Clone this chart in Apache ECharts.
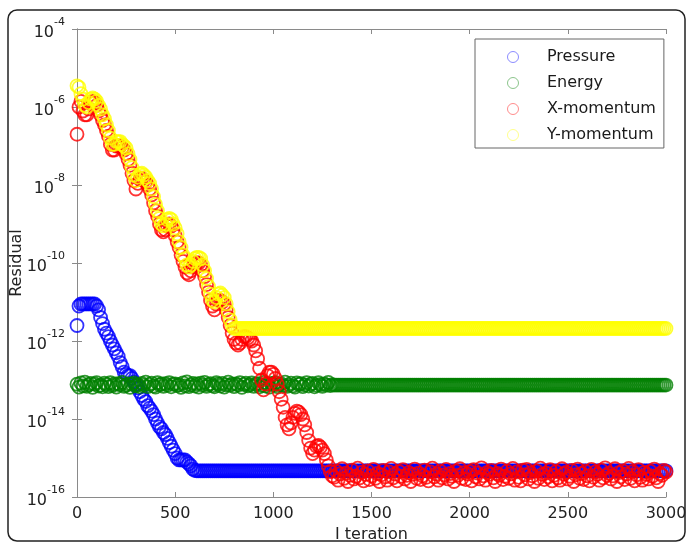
<!DOCTYPE html>
<html>
<head>
<meta charset="utf-8">
<script src="https://cdn.jsdelivr.net/npm/echarts@6/dist/echarts.min.js"></script>
<style>
  html, body { margin: 0; padding: 0; background: #fff; }
  #chart { width: 689px; height: 544px; }
</style>
</head>
<body>
<div id="chart"></div>
<script>
// iteration numbers (every 10 iterations)
var iters = [
  0, 10, 20, 30, 40, 50, 60, 70, 80, 90, 100, 110, 120, 130, 140, 150, 160, 170, 180, 190,
  200, 210, 220, 230, 240, 250, 260, 270, 280, 290, 300, 310, 320, 330, 340, 350, 360, 370, 380, 390,
  400, 410, 420, 430, 440, 450, 460, 470, 480, 490, 500, 510, 520, 530, 540, 550, 560, 570, 580, 590,
  600, 610, 620, 630, 640, 650, 660, 670, 680, 690, 700, 710, 720, 730, 740, 750, 760, 770, 780, 790,
  800, 810, 820, 830, 840, 850, 860, 870, 880, 890, 900, 910, 920, 930, 940, 950, 960, 970, 980, 990,
  1000, 1010, 1020, 1030, 1040, 1050, 1060, 1070, 1080, 1090, 1100, 1110, 1120, 1130, 1140, 1150, 1160, 1170, 1180, 1190,
  1200, 1210, 1220, 1230, 1240, 1250, 1260, 1270, 1280, 1290, 1300, 1310, 1320, 1330, 1340, 1350, 1360, 1370, 1380, 1390,
  1400, 1410, 1420, 1430, 1440, 1450, 1460, 1470, 1480, 1490, 1500, 1510, 1520, 1530, 1540, 1550, 1560, 1570, 1580, 1590,
  1600, 1610, 1620, 1630, 1640, 1650, 1660, 1670, 1680, 1690, 1700, 1710, 1720, 1730, 1740, 1750, 1760, 1770, 1780, 1790,
  1800, 1810, 1820, 1830, 1840, 1850, 1860, 1870, 1880, 1890, 1900, 1910, 1920, 1930, 1940, 1950, 1960, 1970, 1980, 1990,
  2000, 2010, 2020, 2030, 2040, 2050, 2060, 2070, 2080, 2090, 2100, 2110, 2120, 2130, 2140, 2150, 2160, 2170, 2180, 2190,
  2200, 2210, 2220, 2230, 2240, 2250, 2260, 2270, 2280, 2290, 2300, 2310, 2320, 2330, 2340, 2350, 2360, 2370, 2380, 2390,
  2400, 2410, 2420, 2430, 2440, 2450, 2460, 2470, 2480, 2490, 2500, 2510, 2520, 2530, 2540, 2550, 2560, 2570, 2580, 2590,
  2600, 2610, 2620, 2630, 2640, 2650, 2660, 2670, 2680, 2690, 2700, 2710, 2720, 2730, 2740, 2750, 2760, 2770, 2780, 2790,
  2800, 2810, 2820, 2830, 2840, 2850, 2860, 2870, 2880, 2890, 2900, 2910, 2920, 2930, 2940, 2950, 2960, 2970, 2980, 2990,
  3000
];

// Pressure residual
var pressure = [
  // 0 - 600
  2.5e-12, 7.9e-12, 8.9e-12, 8.9e-12, 8.9e-12, 8.9e-12, 8.9e-12, 8.9e-12, 8.9e-12, 8.9e-12,
  7.9e-12, 6.3e-12, 4.0e-12, 2.8e-12, 2.0e-12, 1.6e-12, 1.3e-12, 1.0e-12, 7.9e-13, 6.3e-13,
  5.0e-13, 4.0e-13, 2.8e-13, 2.2e-13, 1.6e-13, 1.4e-13, 1.3e-13, 1.3e-13, 1.1e-13, 8.9e-14,
  7.9e-14, 6.3e-14, 5.0e-14, 4.0e-14, 3.2e-14, 2.8e-14, 2.2e-14, 1.9e-14, 1.6e-14, 1.3e-14,
  1.0e-14, 7.9e-15, 6.3e-15, 5.6e-15, 4.5e-15, 4.0e-15, 3.2e-15, 2.5e-15, 2.0e-15, 1.6e-15,
  1.3e-15, 1.0e-15, 8.9e-16, 8.9e-16, 8.9e-16, 8.9e-16, 7.9e-16, 7.1e-16, 6.3e-16, 5.2e-16,
  4.8e-16,
  // 610 - 1000
  4.7e-16, 4.7e-16, 4.7e-16, 4.7e-16, 4.7e-16, 4.7e-16, 4.7e-16, 4.7e-16, 4.7e-16, 4.7e-16,
  4.7e-16, 4.7e-16, 4.7e-16, 4.7e-16, 4.7e-16, 4.7e-16, 4.7e-16, 4.7e-16, 4.7e-16, 4.7e-16,
  4.7e-16, 4.7e-16, 4.7e-16, 4.7e-16, 4.7e-16, 4.7e-16, 4.7e-16, 4.7e-16, 4.7e-16, 4.7e-16,
  4.7e-16, 4.7e-16, 4.7e-16, 4.7e-16, 4.7e-16, 4.7e-16, 4.7e-16, 4.7e-16, 4.7e-16, 4.7e-16,
  // 1010 - 1400
  4.7e-16, 4.7e-16, 4.7e-16, 4.7e-16, 4.7e-16, 4.7e-16, 4.7e-16, 4.7e-16, 4.7e-16, 4.7e-16,
  4.7e-16, 4.7e-16, 4.7e-16, 4.7e-16, 4.7e-16, 4.7e-16, 4.7e-16, 4.7e-16, 4.7e-16, 4.7e-16,
  4.7e-16, 4.7e-16, 4.7e-16, 4.7e-16, 4.7e-16, 4.7e-16, 4.7e-16, 4.7e-16, 4.7e-16, 4.7e-16,
  4.7e-16, 4.7e-16, 4.7e-16, 4.7e-16, 4.7e-16, 4.7e-16, 4.7e-16, 4.7e-16, 4.7e-16, 4.7e-16,
  // 1410 - 1800
  4.7e-16, 4.7e-16, 4.7e-16, 4.7e-16, 4.7e-16, 4.7e-16, 4.7e-16, 4.7e-16, 4.7e-16, 4.7e-16,
  4.7e-16, 4.7e-16, 4.7e-16, 4.7e-16, 4.7e-16, 4.7e-16, 4.7e-16, 4.7e-16, 4.7e-16, 4.7e-16,
  4.7e-16, 4.7e-16, 4.7e-16, 4.7e-16, 4.7e-16, 4.7e-16, 4.7e-16, 4.7e-16, 4.7e-16, 4.7e-16,
  4.7e-16, 4.7e-16, 4.7e-16, 4.7e-16, 4.7e-16, 4.7e-16, 4.7e-16, 4.7e-16, 4.7e-16, 4.7e-16,
  // 1810 - 2200
  4.7e-16, 4.7e-16, 4.7e-16, 4.7e-16, 4.7e-16, 4.7e-16, 4.7e-16, 4.7e-16, 4.7e-16, 4.7e-16,
  4.7e-16, 4.7e-16, 4.7e-16, 4.7e-16, 4.7e-16, 4.7e-16, 4.7e-16, 4.7e-16, 4.7e-16, 4.7e-16,
  4.7e-16, 4.7e-16, 4.7e-16, 4.7e-16, 4.7e-16, 4.7e-16, 4.7e-16, 4.7e-16, 4.7e-16, 4.7e-16,
  4.7e-16, 4.7e-16, 4.7e-16, 4.7e-16, 4.7e-16, 4.7e-16, 4.7e-16, 4.7e-16, 4.7e-16, 4.7e-16,
  // 2210 - 2600
  4.7e-16, 4.7e-16, 4.7e-16, 4.7e-16, 4.7e-16, 4.7e-16, 4.7e-16, 4.7e-16, 4.7e-16, 4.7e-16,
  4.7e-16, 4.7e-16, 4.7e-16, 4.7e-16, 4.7e-16, 4.7e-16, 4.7e-16, 4.7e-16, 4.7e-16, 4.7e-16,
  4.7e-16, 4.7e-16, 4.7e-16, 4.7e-16, 4.7e-16, 4.7e-16, 4.7e-16, 4.7e-16, 4.7e-16, 4.7e-16,
  4.7e-16, 4.7e-16, 4.7e-16, 4.7e-16, 4.7e-16, 4.7e-16, 4.7e-16, 4.7e-16, 4.7e-16, 4.7e-16,
  // 2610 - 3000
  4.7e-16, 4.7e-16, 4.7e-16, 4.7e-16, 4.7e-16, 4.7e-16, 4.7e-16, 4.7e-16, 4.7e-16, 4.7e-16,
  4.7e-16, 4.7e-16, 4.7e-16, 4.7e-16, 4.7e-16, 4.7e-16, 4.7e-16, 4.7e-16, 4.7e-16, 4.7e-16,
  4.7e-16, 4.7e-16, 4.7e-16, 4.7e-16, 4.7e-16, 4.7e-16, 4.7e-16, 4.7e-16, 4.7e-16, 4.7e-16,
  4.7e-16, 4.7e-16, 4.7e-16, 4.7e-16, 4.7e-16, 4.7e-16, 4.7e-16, 4.7e-16, 4.7e-16, 4.7e-16
];

// Energy residual
var energy = [
  // 0 - 1300
  7.8e-14, 6.6e-14, 8.4e-14, 7.1e-14, 8.8e-14, 6.9e-14, 7.6e-14, 8.2e-14, 6.5e-14, 7.9e-14,
  8.6e-14, 7.0e-14, 7.4e-14, 6.7e-14, 8.3e-14, 7.7e-14, 6.8e-14, 8.5e-14, 7.2e-14, 7.9e-14,
  6.6e-14, 8.1e-14, 7.5e-14, 8.7e-14, 6.9e-14, 7.3e-14, 8.0e-14, 6.5e-14, 7.8e-14, 8.4e-14,
  7.1e-14, 7.6e-14, 6.7e-14, 8.2e-14, 7.4e-14, 8.8e-14, 6.8e-14, 7.7e-14, 8.3e-14, 7.0e-14,
  6.6e-14, 8.5e-14, 7.5e-14, 7.9e-14, 6.9e-14, 8.1e-14, 7.3e-14, 8.6e-14, 6.7e-14, 7.8e-14,
  8.0e-14, 7.2e-14, 7.6e-14, 6.5e-14, 8.4e-14, 7.1e-14, 8.9e-14, 6.8e-14, 7.5e-14, 8.2e-14,
  7.0e-14, 7.9e-14, 6.6e-14, 8.3e-14, 7.4e-14, 8.7e-14, 6.9e-14, 7.6e-14, 8.1e-14, 7.2e-14,
  6.7e-14, 8.5e-14, 7.8e-14, 7.0e-14, 8.2e-14, 6.6e-14, 7.5e-14, 8.8e-14, 7.3e-14, 7.9e-14,
  6.8e-14, 8.0e-14, 7.4e-14, 8.6e-14, 6.5e-14, 7.7e-14, 8.3e-14, 7.1e-14, 7.6e-14, 8.4e-14,
  6.9e-14, 7.8e-14, 8.1e-14, 6.7e-14, 7.3e-14, 8.7e-14, 7.0e-14, 7.9e-14, 6.6e-14, 8.2e-14,
  7.5e-14, 8.5e-14, 6.8e-14, 7.6e-14, 8.0e-14, 7.2e-14, 8.8e-14, 6.9e-14, 7.4e-14, 8.3e-14,
  7.1e-14, 6.6e-14, 8.4e-14, 7.7e-14, 8.1e-14, 6.8e-14, 7.5e-14, 8.6e-14, 7.0e-14, 7.8e-14,
  8.2e-14, 6.7e-14, 7.3e-14, 8.5e-14, 7.6e-14, 6.9e-14, 8.0e-14, 7.4e-14, 8.7e-14, 7.2e-14,
  7.6e-14,
  // 1310 - 3000
  7.4e-14, 7.4e-14, 7.4e-14, 7.4e-14, 7.4e-14, 7.4e-14, 7.4e-14, 7.4e-14, 7.4e-14, 7.4e-14,
  7.4e-14, 7.4e-14, 7.4e-14, 7.4e-14, 7.4e-14, 7.4e-14, 7.4e-14, 7.4e-14, 7.4e-14, 7.4e-14,
  7.4e-14, 7.4e-14, 7.4e-14, 7.4e-14, 7.4e-14, 7.4e-14, 7.4e-14, 7.4e-14, 7.4e-14, 7.4e-14,
  7.4e-14, 7.4e-14, 7.4e-14, 7.4e-14, 7.4e-14, 7.4e-14, 7.4e-14, 7.4e-14, 7.4e-14, 7.4e-14,
  7.4e-14, 7.4e-14, 7.4e-14, 7.4e-14, 7.4e-14, 7.4e-14, 7.4e-14, 7.4e-14, 7.4e-14, 7.4e-14,
  7.4e-14, 7.4e-14, 7.4e-14, 7.4e-14, 7.4e-14, 7.4e-14, 7.4e-14, 7.4e-14, 7.4e-14, 7.4e-14,
  7.4e-14, 7.4e-14, 7.4e-14, 7.4e-14, 7.4e-14, 7.4e-14, 7.4e-14, 7.4e-14, 7.4e-14, 7.4e-14,
  7.4e-14, 7.4e-14, 7.4e-14, 7.4e-14, 7.4e-14, 7.4e-14, 7.4e-14, 7.4e-14, 7.4e-14, 7.4e-14,
  7.4e-14, 7.4e-14, 7.4e-14, 7.4e-14, 7.4e-14, 7.4e-14, 7.4e-14, 7.4e-14, 7.4e-14, 7.4e-14,
  7.4e-14, 7.4e-14, 7.4e-14, 7.4e-14, 7.4e-14, 7.4e-14, 7.4e-14, 7.4e-14, 7.4e-14, 7.4e-14,
  7.4e-14, 7.4e-14, 7.4e-14, 7.4e-14, 7.4e-14, 7.4e-14, 7.4e-14, 7.4e-14, 7.4e-14, 7.4e-14,
  7.4e-14, 7.4e-14, 7.4e-14, 7.4e-14, 7.4e-14, 7.4e-14, 7.4e-14, 7.4e-14, 7.4e-14, 7.4e-14,
  7.4e-14, 7.4e-14, 7.4e-14, 7.4e-14, 7.4e-14, 7.4e-14, 7.4e-14, 7.4e-14, 7.4e-14, 7.4e-14,
  7.4e-14, 7.4e-14, 7.4e-14, 7.4e-14, 7.4e-14, 7.4e-14, 7.4e-14, 7.4e-14, 7.4e-14, 7.4e-14,
  7.4e-14, 7.4e-14, 7.4e-14, 7.4e-14, 7.4e-14, 7.4e-14, 7.4e-14, 7.4e-14, 7.4e-14, 7.4e-14,
  7.4e-14, 7.4e-14, 7.4e-14, 7.4e-14, 7.4e-14, 7.4e-14, 7.4e-14, 7.4e-14, 7.4e-14, 7.4e-14,
  7.4e-14, 7.4e-14, 7.4e-14, 7.4e-14, 7.4e-14, 7.4e-14, 7.4e-14, 7.4e-14, 7.4e-14, 7.4e-14
];

// X-momentum residual
var xMomentum = [
  // 0 - 1300
  2.0e-7, 1.0e-6, 1.4e-6, 7.9e-7, 6.3e-7, 6.3e-7, 8.9e-7, 1.3e-6, 1.4e-6, 1.3e-6,
  1.1e-6, 7.9e-7, 6.3e-7, 4.5e-7, 3.5e-7, 2.5e-7, 1.8e-7, 1.1e-7, 7.9e-8, 7.9e-8,
  1.0e-7, 1.0e-7, 1.0e-7, 8.9e-8, 7.9e-8, 6.3e-8, 4.5e-8, 3.2e-8, 2.0e-8, 1.3e-8,
  7.9e-9, 1.1e-8, 1.4e-8, 1.5e-8, 1.3e-8, 1.2e-8, 1.0e-8, 7.9e-9, 5.6e-9, 3.5e-9,
  2.2e-9, 1.6e-9, 1.0e-9, 7.1e-10, 6.3e-10, 7.1e-10, 8.9e-10, 1.0e-9, 8.9e-10, 7.1e-10,
  5.0e-10, 3.5e-10, 2.5e-10, 1.6e-10, 1.1e-10, 7.9e-11, 5.6e-11, 5.0e-11, 6.3e-11, 7.9e-11,
  8.9e-11, 1.0e-10, 1.0e-10, 8.9e-11, 6.3e-11, 4.5e-11, 2.8e-11, 1.8e-11, 1.1e-11, 7.9e-12,
  6.3e-12, 8.9e-12, 1.1e-11, 1.1e-11, 1.0e-11, 8.9e-12, 6.3e-12, 4.0e-12, 2.5e-12, 1.6e-12,
  1.1e-12, 8.9e-13, 7.9e-13, 8.9e-13, 1.1e-12, 1.3e-12, 1.3e-12, 1.2e-12, 1.1e-12, 1.0e-12,
  7.9e-13, 5.6e-13, 3.5e-13, 2.0e-13, 1.0e-13, 5.6e-14, 7.9e-14, 1.3e-13, 1.6e-13, 1.6e-13,
  1.4e-13, 1.1e-13, 7.9e-14, 5.0e-14, 3.2e-14, 2.0e-14, 1.1e-14, 7.1e-15, 5.6e-15, 7.9e-15,
  1.1e-14, 1.4e-14, 1.6e-14, 1.5e-14, 1.3e-14, 1.0e-14, 7.1e-15, 4.5e-15, 2.8e-15, 1.8e-15,
  1.3e-15, 1.6e-15, 2.0e-15, 2.1e-15, 1.9e-15, 1.6e-15, 1.3e-15, 8.9e-16, 6.3e-16, 4.5e-16,
  3.5e-16,
  // 1310 - 3000
  3.2e-16, 4.6e-16, 2.7e-16, 3.9e-16, 5.3e-16, 3.0e-16, 4.1e-16, 2.5e-16, 3.6e-16, 4.9e-16,
  2.9e-16, 3.4e-16, 5.5e-16, 3.1e-16, 4.3e-16, 2.6e-16, 3.8e-16, 4.7e-16, 2.8e-16, 3.5e-16,
  5.1e-16, 3.0e-16, 4.0e-16, 2.5e-16, 3.7e-16, 4.8e-16, 3.3e-16, 2.7e-16, 4.4e-16, 5.4e-16,
  3.1e-16, 3.9e-16, 2.6e-16, 4.5e-16, 3.4e-16, 5.0e-16, 2.9e-16, 3.6e-16, 4.2e-16, 2.5e-16,
  3.8e-16, 5.2e-16, 3.0e-16, 4.1e-16, 2.8e-16, 3.5e-16, 4.9e-16, 3.2e-16, 2.6e-16, 4.4e-16,
  5.5e-16, 3.3e-16, 3.9e-16, 2.7e-16, 4.6e-16, 3.1e-16, 3.7e-16, 5.1e-16, 2.9e-16, 4.0e-16,
  3.4e-16, 2.5e-16, 4.7e-16, 3.6e-16, 5.3e-16, 3.0e-16, 4.2e-16, 2.8e-16, 3.9e-16, 4.5e-16,
  2.6e-16, 5.0e-16, 3.3e-16, 4.1e-16, 2.9e-16, 5.6e-16, 3.5e-16, 2.7e-16, 4.3e-16, 3.8e-16,
  4.8e-16, 3.1e-16, 2.5e-16, 4.0e-16, 3.6e-16, 5.2e-16, 2.8e-16, 3.4e-16, 4.6e-16, 3.0e-16,
  3.9e-16, 5.4e-16, 2.7e-16, 4.4e-16, 3.2e-16, 2.6e-16, 4.9e-16, 3.7e-16, 5.1e-16, 2.9e-16,
  4.2e-16, 3.5e-16, 2.5e-16, 4.7e-16, 3.0e-16, 5.5e-16, 3.8e-16, 2.8e-16, 4.1e-16, 3.3e-16,
  5.0e-16, 2.6e-16, 3.6e-16, 4.5e-16, 3.1e-16, 2.7e-16, 5.3e-16, 3.9e-16, 4.3e-16, 2.9e-16,
  3.4e-16, 4.8e-16, 2.5e-16, 3.7e-16, 5.2e-16, 3.0e-16, 4.0e-16, 2.8e-16, 4.6e-16, 3.5e-16,
  2.6e-16, 5.1e-16, 3.2e-16, 4.4e-16, 3.8e-16, 2.7e-16, 4.9e-16, 3.1e-16, 5.6e-16, 3.6e-16,
  4.1e-16, 2.9e-16, 3.5e-16, 5.3e-16, 2.5e-16, 4.2e-16, 3.3e-16, 4.7e-16, 2.8e-16, 3.9e-16,
  5.4e-16, 3.0e-16, 4.5e-16, 2.6e-16, 3.7e-16, 5.0e-16, 3.2e-16, 2.7e-16, 4.3e-16, 3.8e-16,
  2.9e-16, 4.6e-16, 3.4e-16, 5.2e-16, 3.1e-16, 2.5e-16, 4.0e-16, 3.6e-16, 4.8e-16, 4.4e-16
];

// Y-momentum residual
var yMomentum = [
  // 0 - 800
  3.5e-6, 3.2e-6, 2.2e-6, 1.6e-6, 1.1e-6, 1.0e-6, 1.3e-6, 1.6e-6, 1.7e-6, 1.6e-6,
  1.4e-6, 1.1e-6, 8.9e-7, 6.3e-7, 5.0e-7, 3.5e-7, 2.5e-7, 1.6e-7, 1.1e-7, 1.1e-7,
  1.3e-7, 1.3e-7, 1.3e-7, 1.1e-7, 1.0e-7, 8.9e-8, 6.3e-8, 4.5e-8, 2.8e-8, 1.8e-8,
  1.3e-8, 1.6e-8, 1.9e-8, 2.0e-8, 1.8e-8, 1.6e-8, 1.3e-8, 1.1e-8, 7.9e-9, 5.0e-9,
  3.2e-9, 2.2e-9, 1.4e-9, 1.0e-9, 8.9e-10, 1.0e-9, 1.3e-9, 1.4e-9, 1.3e-9, 1.0e-9,
  7.9e-10, 5.6e-10, 3.5e-10, 2.5e-10, 1.6e-10, 1.3e-10, 8.9e-11, 7.9e-11, 8.9e-11, 1.1e-10,
  1.3e-10, 1.4e-10, 1.4e-10, 1.3e-10, 8.9e-11, 6.3e-11, 4.0e-11, 2.5e-11, 1.6e-11, 1.1e-11,
  1.0e-11, 1.3e-11, 1.6e-11, 1.7e-11, 1.5e-11, 1.3e-11, 8.9e-12, 5.6e-12, 3.5e-12, 2.5e-12,
  2.1e-12,
  // 810 - 1200
  2.1e-12, 2.1e-12, 2.1e-12, 2.1e-12, 2.1e-12, 2.1e-12, 2.1e-12, 2.1e-12, 2.1e-12, 2.1e-12,
  2.1e-12, 2.1e-12, 2.1e-12, 2.1e-12, 2.1e-12, 2.1e-12, 2.1e-12, 2.1e-12, 2.1e-12, 2.1e-12,
  2.1e-12, 2.1e-12, 2.1e-12, 2.1e-12, 2.1e-12, 2.1e-12, 2.1e-12, 2.1e-12, 2.1e-12, 2.1e-12,
  2.1e-12, 2.1e-12, 2.1e-12, 2.1e-12, 2.1e-12, 2.1e-12, 2.1e-12, 2.1e-12, 2.1e-12, 2.1e-12,
  // 1210 - 1600
  2.1e-12, 2.1e-12, 2.1e-12, 2.1e-12, 2.1e-12, 2.1e-12, 2.1e-12, 2.1e-12, 2.1e-12, 2.1e-12,
  2.1e-12, 2.1e-12, 2.1e-12, 2.1e-12, 2.1e-12, 2.1e-12, 2.1e-12, 2.1e-12, 2.1e-12, 2.1e-12,
  2.1e-12, 2.1e-12, 2.1e-12, 2.1e-12, 2.1e-12, 2.1e-12, 2.1e-12, 2.1e-12, 2.1e-12, 2.1e-12,
  2.1e-12, 2.1e-12, 2.1e-12, 2.1e-12, 2.1e-12, 2.1e-12, 2.1e-12, 2.1e-12, 2.1e-12, 2.1e-12,
  // 1610 - 2000
  2.1e-12, 2.1e-12, 2.1e-12, 2.1e-12, 2.1e-12, 2.1e-12, 2.1e-12, 2.1e-12, 2.1e-12, 2.1e-12,
  2.1e-12, 2.1e-12, 2.1e-12, 2.1e-12, 2.1e-12, 2.1e-12, 2.1e-12, 2.1e-12, 2.1e-12, 2.1e-12,
  2.1e-12, 2.1e-12, 2.1e-12, 2.1e-12, 2.1e-12, 2.1e-12, 2.1e-12, 2.1e-12, 2.1e-12, 2.1e-12,
  2.1e-12, 2.1e-12, 2.1e-12, 2.1e-12, 2.1e-12, 2.1e-12, 2.1e-12, 2.1e-12, 2.1e-12, 2.1e-12,
  // 2010 - 2400
  2.1e-12, 2.1e-12, 2.1e-12, 2.1e-12, 2.1e-12, 2.1e-12, 2.1e-12, 2.1e-12, 2.1e-12, 2.1e-12,
  2.1e-12, 2.1e-12, 2.1e-12, 2.1e-12, 2.1e-12, 2.1e-12, 2.1e-12, 2.1e-12, 2.1e-12, 2.1e-12,
  2.1e-12, 2.1e-12, 2.1e-12, 2.1e-12, 2.1e-12, 2.1e-12, 2.1e-12, 2.1e-12, 2.1e-12, 2.1e-12,
  2.1e-12, 2.1e-12, 2.1e-12, 2.1e-12, 2.1e-12, 2.1e-12, 2.1e-12, 2.1e-12, 2.1e-12, 2.1e-12,
  // 2410 - 2800
  2.1e-12, 2.1e-12, 2.1e-12, 2.1e-12, 2.1e-12, 2.1e-12, 2.1e-12, 2.1e-12, 2.1e-12, 2.1e-12,
  2.1e-12, 2.1e-12, 2.1e-12, 2.1e-12, 2.1e-12, 2.1e-12, 2.1e-12, 2.1e-12, 2.1e-12, 2.1e-12,
  2.1e-12, 2.1e-12, 2.1e-12, 2.1e-12, 2.1e-12, 2.1e-12, 2.1e-12, 2.1e-12, 2.1e-12, 2.1e-12,
  2.1e-12, 2.1e-12, 2.1e-12, 2.1e-12, 2.1e-12, 2.1e-12, 2.1e-12, 2.1e-12, 2.1e-12, 2.1e-12,
  // 2810 - 3000
  2.1e-12, 2.1e-12, 2.1e-12, 2.1e-12, 2.1e-12, 2.1e-12, 2.1e-12, 2.1e-12, 2.1e-12, 2.1e-12,
  2.1e-12, 2.1e-12, 2.1e-12, 2.1e-12, 2.1e-12, 2.1e-12, 2.1e-12, 2.1e-12, 2.1e-12, 2.1e-12
];

var seriesNames = ['Pressure', 'Energy', 'X-momentum', 'Y-momentum'];
var seriesColors = ['#0000ff', '#007f00', '#ff0000', '#ffff00'];
var seriesValues = [pressure, energy, xMomentum, yMomentum];

var font = 'DejaVu Sans';
var axisColor = '#8a8a8a';

function pairs(values) {
  var out = [];
  for (var i = 0; i < iters.length; i++) {
    out.push([iters[i], values[i]]);
  }
  return out;
}

// 10^n labels with superscript
function powLabel(v) {
  var e = Math.round(Math.log(v) / Math.LN10);
  return '{b|10}{s|' + e + '}';
}

var chart = echarts.init(document.getElementById('chart'));

var series = seriesNames.map(function (name, i) {
  return {
    name: name,
    type: 'scatter',
    symbol: 'circle',
    symbolSize: 13,
    itemStyle: {
      color: 'rgba(255,255,255,0)',
      borderColor: seriesColors[i],
      borderWidth: 1.8
    },
    emphasis: { disabled: true },
    data: pairs(seriesValues[i])
  };
});

var option = {
  animation: false,
  backgroundColor: '#fff',
  textStyle: { fontFamily: font },
  grid: { left: 77, right: 23, top: 29, bottom: 47, containLabel: false, outerBoundsMode: 'none' },
  graphic: [{
    type: 'rect',
    silent: true,
    z: -1,
    shape: { x: 8, y: 10, width: 677, height: 531, r: 9 },
    style: { fill: 'none', stroke: '#222', lineWidth: 1.5 }
  }],
  legend: {
    orient: 'vertical',
    left: 475,
    top: 39,
    padding: [10, 8, 5, 32],
    itemWidth: 58,
    itemHeight: 11,
    itemGap: 10,
    borderColor: '#666',
    borderWidth: 1,
    backgroundColor: '#fff',
    itemStyle: { opacity: 0.45, borderWidth: 1 },
    textStyle: { fontFamily: font, fontSize: 16, color: '#1a1a1a' },
    data: seriesNames
  },
  xAxis: [{
    type: 'value',
    min: 0,
    max: 3000,
    interval: 500,
    name: 'I teration',
    nameLocation: 'middle',
    nameGap: 30,
    nameMoveOverlap: false,
    nameTextStyle: { fontFamily: font, fontSize: 16, color: '#222' },
    axisLine: { lineStyle: { color: axisColor, width: 1 } },
    axisTick: { inside: true, length: 5, lineStyle: { color: axisColor } },
    axisLabel: {
      fontFamily: font, fontSize: 16, color: '#222', margin: 9,
      formatter: function (v) { return String(v); }
    },
    splitLine: { show: false }
  }, {
    type: 'value',
    position: 'top',
    min: 0,
    max: 3000,
    interval: 500,
    axisLine: { lineStyle: { color: axisColor, width: 1 } },
    axisTick: { inside: true, length: 5, lineStyle: { color: axisColor } },
    axisLabel: { show: false },
    splitLine: { show: false }
  }],
  yAxis: [{
    type: 'log',
    logBase: 10,
    min: 1e-16,
    max: 1e-4,
    interval: 2,
    name: 'Residual',
    nameLocation: 'middle',
    nameGap: 52,
    nameMoveOverlap: false,
    nameTextStyle: { fontFamily: font, fontSize: 16, color: '#222' },
    axisLine: { lineStyle: { color: axisColor, width: 1 } },
    axisTick: { inside: true, length: 5, lineStyle: { color: axisColor } },
    axisLabel: {
      margin: 12,
      formatter: powLabel,
      rich: {
        b: { fontFamily: font, fontSize: 16, color: '#222', lineHeight: 24, verticalAlign: 'bottom' },
        s: { fontFamily: font, fontSize: 11, color: '#222', verticalAlign: 'top' }
      }
    },
    splitLine: { show: false }
  }, {
    type: 'log',
    logBase: 10,
    position: 'right',
    min: 1e-16,
    max: 1e-4,
    interval: 2,
    axisLine: { lineStyle: { color: axisColor, width: 1 } },
    axisTick: { inside: true, length: 5, lineStyle: { color: axisColor } },
    axisLabel: { show: false },
    splitLine: { show: false }
  }],
  series: series
};

chart.setOption(option);
</script>
</body>
</html>
